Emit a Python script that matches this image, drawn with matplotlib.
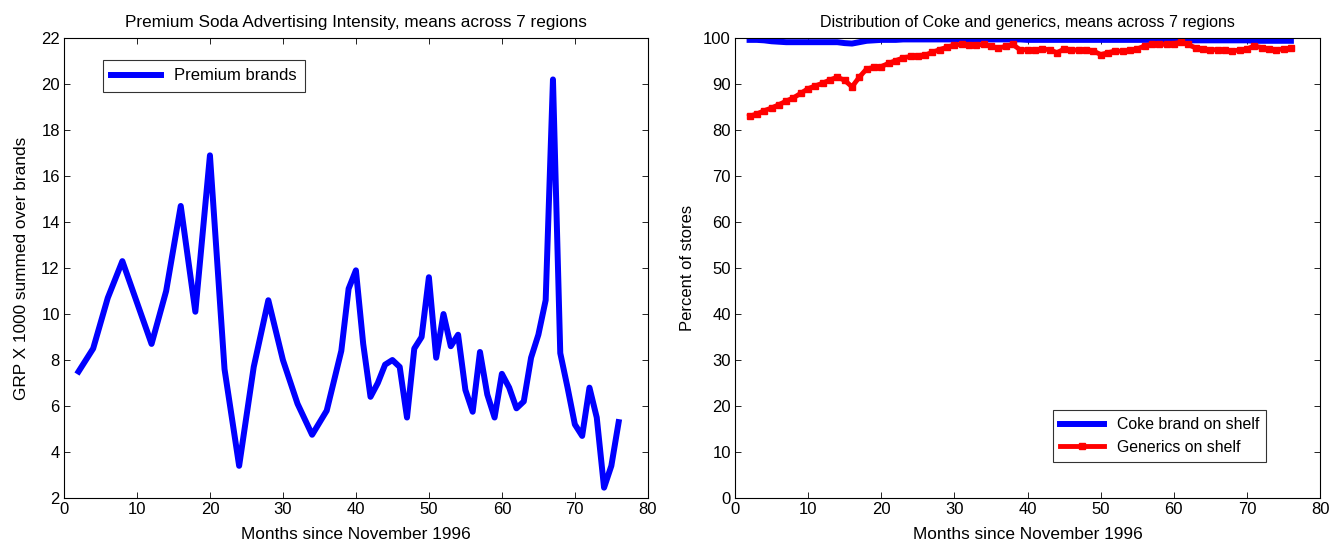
import numpy as np
import matplotlib.pyplot as plt

plt.rcParams['font.family'] = ['Liberation Sans', 'DejaVu Sans']
plt.rcParams['font.size'] = 12

# === Data ===
# left panel: premium brand advertising (GRP x 1000)
adv_months = [2, 4, 6, 8, 10, 12, 14, 16, 18, 20, 22, 24, 26, 28, 30, 32, 34, 36, 38,
              39, 40, 41, 42, 43, 44, 45, 46, 47, 48, 49, 50, 51, 52, 53, 54, 55, 56,
              57, 58, 59, 60, 61, 62, 63, 64, 65, 66, 67, 68, 69, 70, 71, 72, 73, 74, 75, 76]
premium = [7.5, 8.5, 10.7, 12.3, 10.5, 8.7, 11.0, 14.7, 10.1, 16.9, 7.6, 3.4, 7.7, 10.6,
           8.0, 6.1, 4.75, 5.8, 8.4, 11.1, 11.9, 8.7, 6.4, 7.0, 7.8, 8.0, 7.7, 5.5, 8.5,
           9.0, 11.6, 8.1, 10.0, 8.6, 9.1, 6.7, 5.75, 8.35, 6.5, 5.5, 7.4, 6.8, 5.9, 6.2,
           8.1, 9.1, 10.6, 20.2, 8.3, 6.8, 5.2, 4.7, 6.8, 5.5, 2.45, 3.4, 5.3]

# right panel: distribution (% of stores)
dist_months = list(range(2, 77))
coke = [99.6, 99.6, 99.5, 99.3, 99.2, 99.1, 99.1, 99.1, 99.1, 99.1, 99.1, 99.1, 99.1,
        98.9, 98.8, 99.1, 99.4, 99.5, 99.6, 99.6, 99.6, 99.7, 99.7, 99.7, 99.7, 99.7,
        99.7, 99.7, 99.7, 99.7, 99.7, 99.7, 99.7, 99.7, 99.7, 99.7, 99.7, 99.7, 99.6,
        99.6, 99.6, 99.6, 99.6, 99.6, 99.6, 99.6, 99.6, 99.6, 99.6, 99.6, 99.6, 99.6,
        99.6, 99.6, 99.6, 99.6, 99.6, 99.6, 99.6, 99.6, 99.5, 99.5, 99.5, 99.5, 99.5,
        99.5, 99.5, 99.5, 99.5, 99.4, 99.4, 99.4, 99.4, 99.4, 99.4]
generics = [83.0, 83.5, 84.2, 84.8, 85.5, 86.3, 87.0, 88.0, 89.0, 89.6, 90.2, 90.9, 91.5,
            90.8, 89.4, 91.5, 93.3, 93.6, 93.8, 94.5, 95.1, 95.7, 96.0, 96.2, 96.3, 96.9,
            97.5, 98.0, 98.5, 98.6, 98.4, 98.5, 98.6, 98.2, 97.8, 98.2, 98.6, 97.4, 97.5,
            97.3, 97.6, 97.5, 96.8, 97.6, 97.5, 97.3, 97.5, 97.2, 96.4, 96.8, 97.2, 97.1,
            97.3, 97.6, 98.3, 98.6, 98.7, 98.6, 98.8, 99.1, 98.6, 97.8, 97.7, 97.4, 97.5,
            97.3, 97.2, 97.4, 97.6, 98.3, 97.9, 97.6, 97.5, 97.6, 97.8]

fig = plt.figure(figsize=(13.3, 5.45), dpi=100)
ax1 = fig.add_axes([0.0481, 0.0862, 0.439, 0.844])
ax2 = fig.add_axes([0.5526, 0.0862, 0.44, 0.844])

for ax in (ax1, ax2):
    ax.tick_params(direction='in', top=True, right=True, length=4.5, width=0.6,
                   labelsize=12, pad=3)
    for s in ax.spines.values():
        s.set_linewidth(0.8)

# === Left panel ===
ax1.plot(adv_months, premium, color='#0000ff', lw=4.3, label='Premium brands')
ax1.set_xlim(0, 80)
ax1.set_ylim(2, 22)
ax1.set_xticks(np.arange(0, 81, 10))
ax1.set_yticks(np.arange(2, 23, 2))
ax1.set_title('Premium Soda Advertising Intensity, means across 7 regions', fontsize=12.3, pad=8)
ax1.set_xlabel('Months since November 1996', fontsize=12.4, labelpad=7)
ax1.set_ylabel('GRP X 1000 summed over brands', fontsize=12.4, labelpad=9)
leg1 = ax1.legend(loc='upper left', bbox_to_anchor=(0.066, 0.952), fancybox=False,
                  edgecolor='black', handlelength=3.0, borderpad=0.5, borderaxespad=0)
leg1.get_frame().set_linewidth(0.8)

# === Right panel ===
ax2.plot(dist_months, coke, color='#0000ff', lw=4.3, label='Coke brand on shelf')
ax2.plot(dist_months, generics, color='#ff0000', lw=3.5, marker='s', ms=4.5,
         label='Generics on shelf')
ax2.set_xlim(0, 80)
ax2.set_ylim(0, 100)
ax2.set_xticks(np.arange(0, 81, 10))
ax2.set_yticks(np.arange(0, 101, 10))
ax2.set_title('Distribution of Coke and generics, means across 7 regions', fontsize=11.5, pad=8)
ax2.set_xlabel('Months since November 1996', fontsize=12.4, labelpad=7)
ax2.set_ylabel('Percent of stores', labelpad=6)
leg2 = ax2.legend(loc='lower right', bbox_to_anchor=(0.908, 0.078), fancybox=False,
                  edgecolor='black', handlelength=2.8, borderpad=0.45, borderaxespad=0,
                  fontsize=11.4)
leg2.get_frame().set_linewidth(0.8)

plt.savefig('out.png', dpi=100)
